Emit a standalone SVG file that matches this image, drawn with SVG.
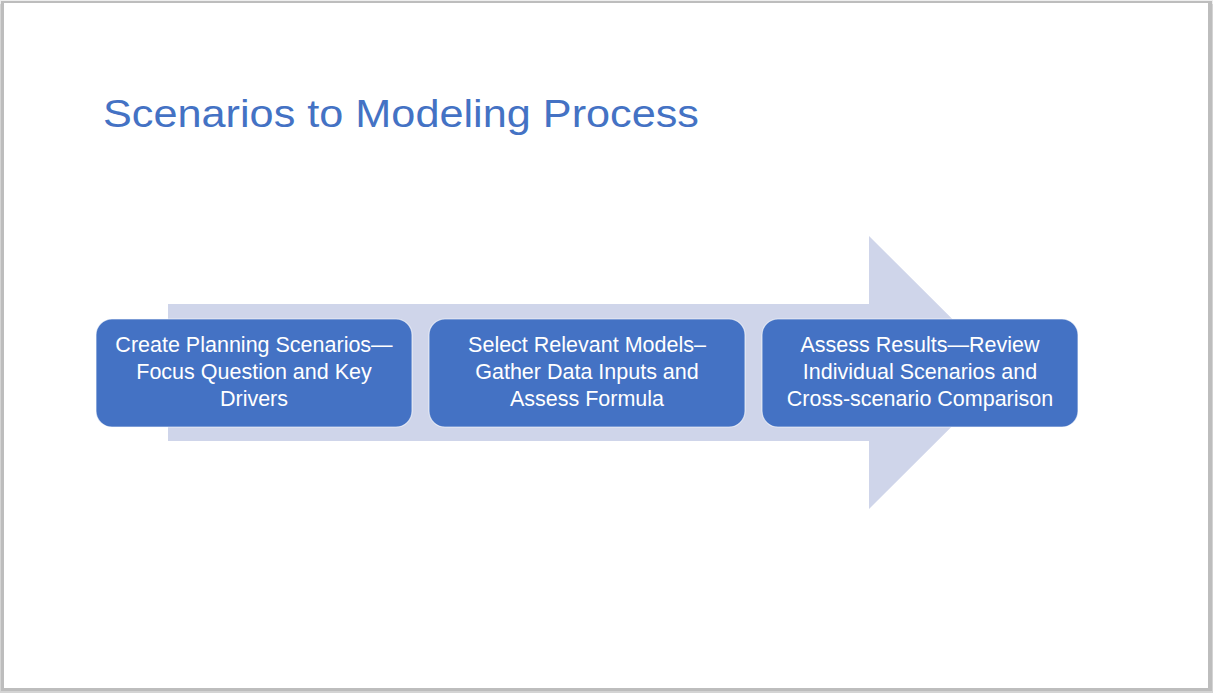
<svg xmlns="http://www.w3.org/2000/svg" width="1213" height="693" viewBox="0 0 1213 693">
<style>
.box{fill:#4472C4;stroke:#ffffff;stroke-opacity:0.6;stroke-width:1.2}
.lbl{font-family:"Liberation Sans",Arial,sans-serif;font-size:21.5px;fill:#ffffff;text-anchor:middle}
.title{font-family:"Liberation Sans",Arial,sans-serif;font-size:38px;fill:#4472C4}
</style>
<rect x="0" y="0" width="1213" height="693" fill="#d4d4d4"/>
<rect x="0" y="0" width="1213" height="4" fill="#eeeeee"/>
<rect x="1" y="1" width="1211" height="690" fill="#bdbdbd"/>
<rect x="4" y="3" width="1204" height="685" fill="#ffffff"/>
<text class="title" x="103" y="127" textLength="596" lengthAdjust="spacingAndGlyphs">Scenarios to Modeling Process</text>
<g id="arrow">
<polygon points="168,304 869,304 869,236 1006,372.5 869,509 869,441 168,441" fill="#CFD5EA"/>
</g>
<g id="node1">
<rect class="box" x="96" y="319" width="316" height="108" rx="16"/>
<text class="lbl" x="254" y="352">Create Planning Scenarios—</text>
<text class="lbl" x="254" y="379">Focus Question and Key</text>
<text class="lbl" x="254" y="406">Drivers</text>
</g>
<g id="node2">
<rect class="box" x="429" y="319" width="316" height="108" rx="16"/>
<text class="lbl" x="587" y="352">Select Relevant Models–</text>
<text class="lbl" x="587" y="379">Gather Data Inputs and</text>
<text class="lbl" x="587" y="406">Assess Formula</text>
</g>
<g id="node3">
<rect class="box" x="762" y="319" width="316" height="108" rx="16"/>
<text class="lbl" x="920" y="352">Assess Results—Review</text>
<text class="lbl" x="920" y="379">Individual Scenarios and</text>
<text class="lbl" x="920" y="406">Cross-scenario Comparison</text>
</g>
</svg>
